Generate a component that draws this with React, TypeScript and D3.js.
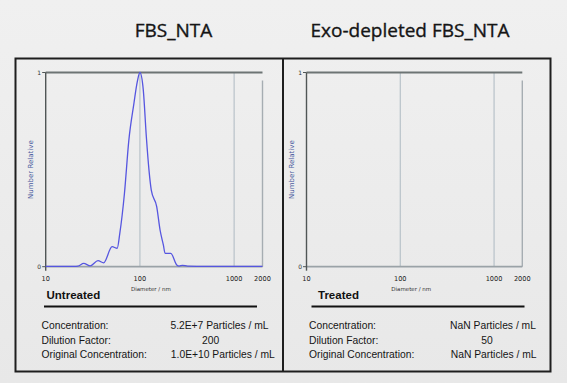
import React from "react";
import * as d3 from "d3";

const panelTitles = ["FBS_NTA", "Exo-depleted FBS_NTA"];
const panelTags = ["Untreated", "Treated"];
const xTicks = [10, 100, 1000, 2000];
const yTicks = [0, 1];
const statLabels = ["Concentration:", "Dilution Factor:", "Original Concentration:"];
const untreatedStats = ["5.2E+7 Particles / mL", "200", "1.0E+10 Particles / mL"];
const treatedStats = ["NaN Particles / mL", "50", "NaN Particles / mL"];

// Untreated size distribution (diameter nm, relative number)
const diameters = [10, 15, 20, 22, 25.3, 29.7, 35.9, 41.2, 50.7, 57.4, 61.1, 68.5, 76.3, 86.3, 93.7, 100, 108.5, 117, 124.8, 132, 150.7, 163.6, 177.5, 184.9, 212.5, 246, 260.6, 283, 320, 500, 1000, 2000];
const relNumber = [0.002, 0.002, 0.002, 0.003, 0.017, 0.004, 0.031, 0.02, 0.103, 0.095, 0.17, 0.377, 0.652, 0.84, 0.952, 1.0, 0.912, 0.669, 0.497, 0.394, 0.309, 0.189, 0.111, 0.069, 0.069, 0.009, 0.003, 0.007, 0.003, 0.002, 0.002, 0.002];

const W = 567;
const H = 383;

type PanelProps = {
  idx: number;
  boxX0: number;
  boxX1: number;
  plotX0: number;
  plotX1: number;
  data: { d: number; v: number }[] | null;
  stats: string[];
  valueCenters: number[];
};

const plotY0 = 72.5;
const plotY1 = 266.7;

function Panel({ idx, boxX0, boxX1, plotX0, plotX1, data, stats, valueCenters }: PanelProps) {
  const x = d3.scaleLog().domain([10, 2000]).range([plotX0, plotX1]);
  const y = d3.scaleLinear().domain([0, 1]).range([plotY1, plotY0]);
  const line = d3
    .line<{ d: number; v: number }>()
    .x((p) => x(p.d))
    .y((p) => y(p.v))
    .curve(d3.curveMonotoneX);
  const labelX = boxX0 + 28;
  const statX = boxX0 + 26;
  return (
    <g>
      {[100, 1000].map((t) => (
        <line key={t} x1={x(t)} x2={x(t)} y1={plotY0} y2={plotY1} stroke="#b8c2c9" strokeWidth={1.2} />
      ))}
      <line x1={x(2000)} x2={x(2000)} y1={plotY0 + 8} y2={plotY1} stroke="#a6adb2" strokeWidth={1.4} />
      <line x1={plotX0} x2={plotX1} y1={plotY0} y2={plotY0} stroke="#6d7474" strokeWidth={1.8} />
      <line x1={plotX0} x2={plotX1} y1={plotY1} y2={plotY1} stroke="#9aa2a7" strokeWidth={1.8} />
      <line x1={plotX0} x2={plotX0} y1={plotY0} y2={plotY1 + 4} stroke="#505656" strokeWidth={1.4} />
      {yTicks.map((t) => (
        <g key={t}>
          <line x1={plotX0 - 3.5} x2={plotX0} y1={y(t)} y2={y(t)} stroke="#505656" strokeWidth={1} />
          <text x={plotX0 - 4.5} y={y(t) + 2} fontSize={6} fontFamily="DejaVu Sans" textAnchor="end" fill="#333">
            {t}
          </text>
        </g>
      ))}
      {xTicks.map((t) => (
        <text key={t} x={x(t)} y={281} fontSize={6.6} fontFamily="DejaVu Sans" textAnchor="middle" fill="#222">
          {t}
        </text>
      ))}
      <text
        transform={`translate(${plotX0 - 13},${(plotY0 + plotY1) / 2}) rotate(-90)`}
        fontSize={7}
        fontFamily="DejaVu Sans"
        textAnchor="middle"
        fill="#4a5aa0"
      >
        Number Relative
      </text>
      <text x={x(100) - 9} y={290.5} fontSize={5.5} fontFamily="DejaVu Sans" textAnchor="start" fill="#333">
        Diameter / nm
      </text>
      {data && (
        <path d={line(data) || ""} fill="none" stroke="#5656e0" strokeWidth={1.3} strokeLinejoin="round" />
      )}
      <text
        x={idx === 0 ? 173.5 : 410}
        y={37}
        fontSize={19}
        fontFamily="Open Sans"
        textAnchor="middle"
        fill="#151515"
        stroke="#151515"
        strokeWidth={0.35}
      >
        {panelTitles[idx]}
      </text>
      <text x={labelX + (idx === 0 ? 3 : 7)} y={298.5} fontSize={11.5} fontWeight="bold" fontFamily="Liberation Sans" fill="#111">
        {panelTags[idx]}
      </text>
      <line x1={boxX0 + 28.5} x2={boxX1 - 26} y1={306.5} y2={306.5} stroke="#111" strokeWidth={2} />
      {statLabels.map((s, i) => (
        <g key={s}>
          <text x={statX} y={329 + i * 14.6} fontSize={10.3} fontFamily="Liberation Sans" fill="#151515">
            {s}
          </text>
          <text x={valueCenters[i]} y={329 + i * 14.6} fontSize={10.3} fontFamily="Liberation Sans" textAnchor="middle" fill="#151515">
            {stats[i]}
          </text>
        </g>
      ))}
    </g>
  );
}

export default function App() {
  const data = diameters.map((d, i) => ({ d, v: relNumber[i] }));
  return (
    <svg width={W} height={H} style={{ position: "absolute", left: 0, top: 0 }}>
      <defs>
        <linearGradient id="bg" x1="0" y1="0" x2="0" y2="1">
          <stop offset="0" stopColor="#f0f0f0" />
          <stop offset="1" stopColor="#e8e8e8" />
        </linearGradient>
      </defs>
      <rect x={0} y={0} width={W} height={H} fill="url(#bg)" />
      <rect x={15.5} y={58.5} width={535} height={313} fill="none" stroke="#1e1e1e" strokeWidth={2} />
      <line x1={283} x2={283} y1={58.5} y2={371.5} stroke="#1e1e1e" strokeWidth={2} />
      <Panel
        idx={0}
        boxX0={15.5}
        boxX1={283}
        plotX0={45.7}
        plotX1={262.5}
        data={data}
        stats={untreatedStats}
        valueCenters={[219.5, 210.7, 222.8]}
      />
      <Panel
        idx={1}
        boxX0={283}
        boxX1={550.5}
        plotX0={306.5}
        plotX1={522.3}
        data={null}
        stats={treatedStats}
        valueCenters={[493, 487, 493.7]}
      />
    </svg>
  );
}
